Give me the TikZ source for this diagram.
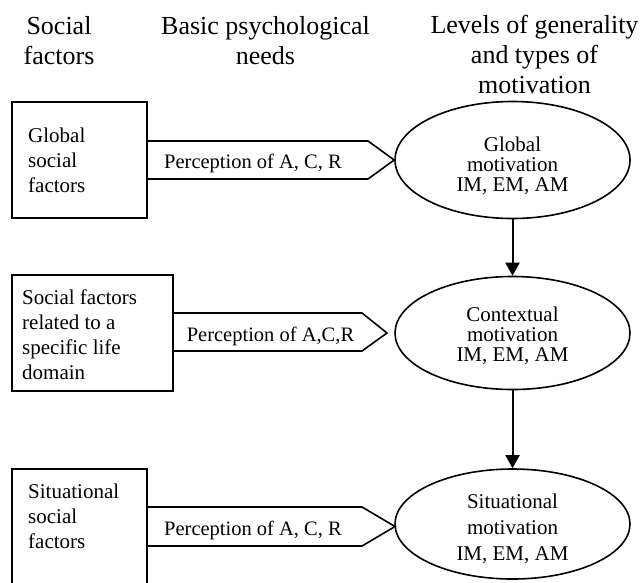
\documentclass[tikz,border=0pt]{standalone}
\usepackage{fontspec}
\setmainfont{Liberation Serif}
\usetikzlibrary{shapes.geometric,arrows.meta}
\begin{document}
\begin{tikzpicture}[x=1pt,y=-1pt,
  hdr/.style={anchor=base,align=center,inner sep=0pt,font=\fontsize{26}{30}\selectfont},
  boxtxt/.style={anchor=base west,align=left,inner sep=0pt,font=\fontsize{21}{25}\selectfont},
  lbl/.style={anchor=base,inner sep=0pt,font=\fontsize{20.5}{22}\selectfont},
  frame/.style={draw,line width=1.6pt,inner sep=0pt},
  ell/.style={ellipse,draw,line width=1.6pt,inner sep=0pt},
  mtxt/.style={anchor=base,align=center,inner sep=0pt},
  flow/.style={-{Triangle[length=13pt,width=14pt]},line width=2pt},
  band/.style={draw,line width=1.6pt,line join=miter}
]
\useasboundingbox (0,0) rectangle (642,582);
\clip (0,0) rectangle (642,582);

% headers (anchor base = baseline of last line)
\node[hdr] (h1) at (59,64) {Social\\factors};
\node[hdr] (h2) at (265.5,64) {Basic psychological\\needs};
\node[hdr] (h3) at (534.5,93) {Levels of generality\\and types of\\motivation};

% boxes
\node[frame,minimum width=135,minimum height=116] (b1) at (79.5,160) {};
\node[frame,minimum width=161,minimum height=116] (b2) at (92.5,333) {};
\node[frame,minimum width=135,minimum height=131] (b3) at (79.5,534.5) {};
\node[boxtxt] (t1) at (28,192) {Global\\social\\factors};
\node[boxtxt] (t2) at (22,379) {Social factors\\related to a\\specific life\\domain};
\node[boxtxt] (t3) at (28,548) {Situational\\social\\factors};

% ellipses
\node[ell,minimum width=235,minimum height=117] (e1) at (512.5,160) {};
\node[ell,minimum width=235,minimum height=113] (e2) at (512.5,333) {};
\node[ell,minimum width=235,minimum height=110] (e3) at (512.5,524) {};
\node[mtxt,font=\fontsize{21}{20}\selectfont] (m1) at (512.5,191) {Global\\motivation\\IM, EM, AM};
\node[mtxt,font=\fontsize{21}{20}\selectfont] (m2) at (512.5,361) {Contextual\\motivation\\IM, EM, AM};
\node[mtxt,font=\fontsize{21}{26}\selectfont] (m3) at (512.5,560) {Situational\\motivation\\IM, EM, AM};

% bands
\coordinate (p2) at (387,333);
\coordinate (p3) at (395,526.5);
\draw[band] (b1.east |- 0,141) -- (368,141) -- (e1.west) -- (368,179) -- (b1.east |- 0,179);
\draw[band] (b2.east |- 0,313) -- (362,313) -- (p2) -- (362,351) -- (b2.east |- 0,351);
\draw[band] (b3.east |- 0,507) -- (362,507) -- (p3) -- (362,546) -- (b3.east |- 0,546);
\node[lbl] (l1) at (253,168) {Perception of A, C, R};
\node[lbl] (l2) at (270.5,341) {Perception of A,C,R};
\node[lbl] (l3) at (253,535) {Perception of A, C, R};

% vertical arrows
\draw[flow] (e1.south) -- (e2.north);
\draw[flow] (e2.south) -- (e3.north);
\end{tikzpicture}
\end{document}
